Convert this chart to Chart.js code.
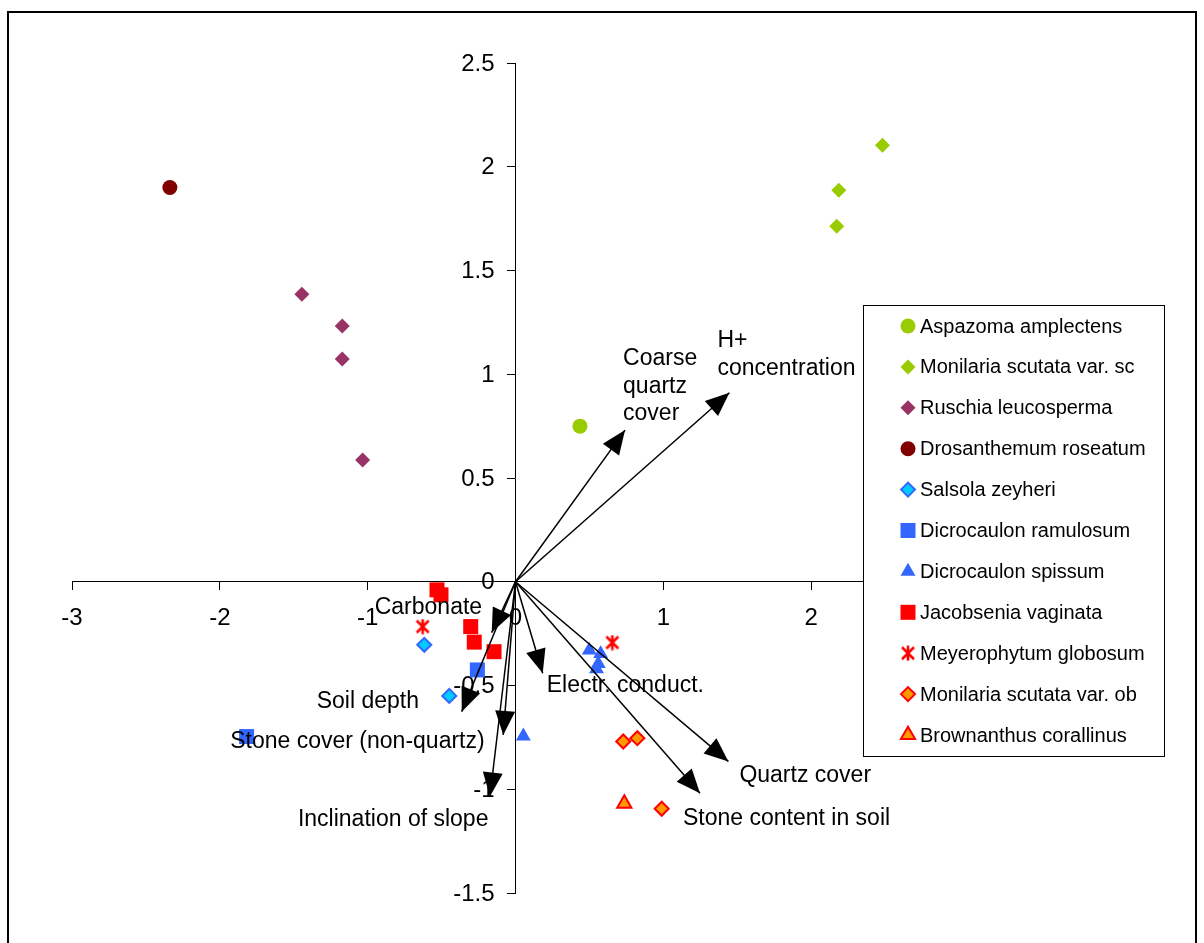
<!DOCTYPE html>
<html><head><meta charset="utf-8">
<script src="https://cdn.jsdelivr.net/npm/chart.js@4/dist/chart.umd.min.js"></script>
<style>html,body{margin:0;padding:0;background:#fff;overflow:hidden}#wrap{position:relative;width:1204px;height:943px}</style>
</head><body><div id="wrap"><canvas id="c" width="1204" height="943"></canvas></div>
<script>
// ---- tick labels ----
const xTickValues = [-3, -2, -1, 0, 1, 2, 3];
const xTickLabels = ['-3', '-2', '-1', '0', '1', '2', '3'];
const yTickValues = [-1.5, -1, -0.5, 0, 0.5, 1, 1.5, 2, 2.5];
const yTickLabels = ['-1.5', '-1', '-0.5', '0', '0.5', '1', '1.5', '2', '2.5'];

// ---- species (ordination scores) ----
const speciesNames = ['Aspazoma amplectens', 'Monilaria scutata var. sc', 'Ruschia leucosperma',
  'Drosanthemum roseatum', 'Salsola zeyheri', 'Dicrocaulon ramulosum', 'Dicrocaulon spissum',
  'Jacobsenia vaginata', 'Meyerophytum globosum', 'Monilaria scutata var. ob', 'Brownanthus corallinus'];
const aspazomaX = [0.436];
const aspazomaY = [0.750];
const moniScX = [2.482, 2.187, 2.173];
const moniScY = [2.104, 1.887, 1.713];
const ruschiaX = [-1.445, -1.172, -1.172, -1.034];
const ruschiaY = [1.385, 1.232, 1.074, 0.587];
const drosX = [-2.338];
const drosY = [1.900];
const salsolaX = [-0.617, -0.448];
const salsolaY = [-0.304, -0.550];
const dicRamX = [-1.819, -0.258];
const dicRamY = [-0.746, -0.425];
const dicSpiX = [0.499, 0.576, 0.560, 0.548, 0.053];
const dicSpiY = [-0.330, -0.347, -0.395, -0.420, -0.744];
const jacobX = [-0.531, -0.504, -0.303, -0.279, -0.145];
const jacobY = [-0.039, -0.063, -0.216, -0.291, -0.337];
const meyerX = [-0.628, 0.655];
const meyerY = [-0.216, -0.293];
const moniObX = [0.729, 0.824, 0.989];
const moniObY = [-0.770, -0.754, -1.094];
const brownX = [0.736];
const brownY = [-1.069];

// ---- environmental vectors ----
const envNames = [['Coarse', 'quartz', 'cover'], ['H+', 'concentration'], ['Carbonate'], ['Soil depth'],
  ['Stone cover (non-quartz)'], ['Inclination of slope'], ['Electr. conduct.'], ['Quartz cover'], ['Stone content in soil']];
const envX = [0.741, 1.447, -0.161, -0.364, -0.083, -0.173, 0.184, 1.440, 1.248];
const envY = [0.731, 0.911, -0.245, -0.626, -0.738, -1.035, -0.441, -0.866, -1.019];
// label placement (pixel offset of first line from the arrow tip)
const envLabelOffset = [[-2, -71], [-12, -52], [-117, -25], [-145, -10], [-273, 7], [-192, 23], [4, 12], [11, 14], [-17, 25]];

function pts(xs, ys) { return xs.map((x, i) => ({ x: x, y: ys[i] })); }

// asterisk marker (Excel style: X with vertical bar)
function makeAsterisk(color) {
  const c = document.createElement('canvas');
  c.width = 16; c.height = 16;
  const g = c.getContext('2d');
  g.strokeStyle = color; g.lineWidth = 2.6; g.lineCap = 'butt';
  g.beginPath();
  g.moveTo(2, 2); g.lineTo(14, 14);
  g.moveTo(14, 2); g.lineTo(2, 14);
  g.moveTo(8, 0.5); g.lineTo(8, 15.5);
  g.stroke();
  return c;
}
const asterisk = makeAsterisk('#FF0000');

const styles = [
  { pointStyle: 'circle', radius: 7.5, bg: '#99CC00', border: '#99CC00', bw: 0 },
  { pointStyle: 'rectRot', radius: 7.5, bg: '#99CC00', border: '#99CC00', bw: 0 },
  { pointStyle: 'rectRot', radius: 7.5, bg: '#993366', border: '#993366', bw: 0 },
  { pointStyle: 'circle', radius: 7.5, bg: '#800000', border: '#800000', bw: 0 },
  { pointStyle: 'rectRot', radius: 7, bg: '#00CCFF', border: '#3366FF', bw: 2 },
  { pointStyle: 'rect', radius: 10.6, bg: '#3366FF', border: '#3366FF', bw: 0 },
  { pointStyle: 'triangle', radius: 8.6, bg: '#3366FF', border: '#3366FF', bw: 0 },
  { pointStyle: 'rect', radius: 10.6, bg: '#FF0000', border: '#FF0000', bw: 0 },
  { pointStyle: asterisk, radius: 8, bg: '#FF0000', border: '#FF0000', bw: 0 },
  { pointStyle: 'rectRot', radius: 7, bg: '#FF9900', border: '#FF0000', bw: 2 },
  { pointStyle: 'triangle', radius: 8.2, bg: '#FF9900', border: '#FF0000', bw: 2 }
];
const speciesData = [
  pts(aspazomaX, aspazomaY), pts(moniScX, moniScY), pts(ruschiaX, ruschiaY), pts(drosX, drosY),
  pts(salsolaX, salsolaY), pts(dicRamX, dicRamY), pts(dicSpiX, dicSpiY), pts(jacobX, jacobY),
  pts(meyerX, meyerY), pts(moniObX, moniObY), pts(brownX, brownY)
];

const datasets = [];
speciesNames.forEach((name, i) => {
  const s = styles[i];
  datasets.push({
    label: name, data: speciesData[i], pointStyle: s.pointStyle, pointRadius: s.radius,
    backgroundColor: s.bg, borderColor: s.border, pointBorderWidth: s.bw, borderWidth: s.bw,
    showLine: false, order: 2, isSpecies: true
  });
});
envNames.forEach((name, i) => {
  datasets.push({
    label: name.join(' '), data: [{ x: 0, y: 0 }, { x: envX[i], y: envY[i] }], showLine: true,
    borderColor: '#000', borderWidth: 1.5, pointRadius: 0, backgroundColor: '#000', order: 1, isArrow: true, envIndex: i
  });
});

const FONT = 'Arial, "Liberation Sans", sans-serif';

const framePlugin = {
  id: 'frame',
  beforeDraw(chart) {
    const ctx = chart.ctx;
    ctx.save();
    ctx.fillStyle = '#fff'; ctx.fillRect(0, 0, chart.width, chart.height);
    ctx.strokeStyle = '#000'; ctx.lineWidth = 2;
    ctx.strokeRect(8, 12, 1188, 960);
    ctx.restore();
  }
};

// y tick labels placed left of the tick marks (axis sits at x = 0)
const yLabelPlugin = {
  id: 'yLabels',
  afterDraw(chart) {},
  beforeDatasetsDraw(chart) {
    const ctx = chart.ctx;
    const xs = chart.scales.x, ys = chart.scales.y;
    const ax = xs.getPixelForValue(0);
    ctx.save();
    ctx.font = '24px ' + FONT;
    ctx.fillStyle = '#000';
    ctx.textAlign = 'right'; ctx.textBaseline = 'middle';
    yTickValues.forEach((v, i) => {
      ctx.fillText(yTickLabels[i], ax - 21, ys.getPixelForValue(v) + 1);
    });
    ctx.restore();
  }
};

const arrowPlugin = {
  id: 'arrows',
  afterDatasetsDraw(chart) {
    const ctx = chart.ctx;
    const xs = chart.scales.x, ys = chart.scales.y;
    ctx.save();
    chart.data.datasets.forEach((ds) => {
      if (!ds.isArrow) return;
      const x0 = xs.getPixelForValue(ds.data[0].x), y0 = ys.getPixelForValue(ds.data[0].y);
      const x1 = xs.getPixelForValue(ds.data[1].x), y1 = ys.getPixelForValue(ds.data[1].y);
      const dx = x1 - x0, dy = y1 - y0, len = Math.hypot(dx, dy);
      const ux = dx / len, uy = dy / len, nx = -uy, ny = ux;
      const L = 24, W = 10;
      ctx.fillStyle = '#000';
      ctx.beginPath();
      ctx.moveTo(x1, y1);
      ctx.lineTo(x1 - L * ux + W * nx, y1 - L * uy + W * ny);
      ctx.lineTo(x1 - L * ux - W * nx, y1 - L * uy - W * ny);
      ctx.closePath();
      ctx.fill();
      const i = ds.envIndex;
      const lines = envNames[i];
      ctx.font = '23px ' + FONT;
      ctx.textAlign = 'left'; ctx.textBaseline = 'middle';
      lines.forEach((t, k) => {
        ctx.fillText(t, x1 + envLabelOffset[i][0], y1 + envLabelOffset[i][1] + k * 27.5);
      });
    });
    ctx.restore();
  }
};

const legendPlugin = {
  id: 'customLegend',
  afterDraw(chart) {
    const ctx = chart.ctx;
    ctx.save();
    const bx = 863.5, by = 305.5, bw = 301, bh = 451;
    ctx.fillStyle = '#fff'; ctx.fillRect(bx, by, bw, bh);
    ctx.strokeStyle = '#000'; ctx.lineWidth = 1; ctx.strokeRect(bx, by, bw, bh);
    ctx.font = '20px ' + FONT;
    ctx.textAlign = 'left'; ctx.textBaseline = 'middle';
    chart.data.datasets.forEach((ds, i) => {
      if (!ds.isSpecies) return;
      const y = 326 + i * 40.9;
      ctx.fillStyle = ds.backgroundColor; ctx.strokeStyle = ds.borderColor; ctx.lineWidth = ds.pointBorderWidth;
      Chart.helpers.drawPoint(ctx, { pointStyle: ds.pointStyle, radius: ds.pointRadius, rotation: 0, borderWidth: ds.pointBorderWidth }, 908, y);
      ctx.fillStyle = '#000';
      ctx.fillText(ds.label, 920, y + 1);
    });
    ctx.restore();
  }
};

new Chart(document.getElementById('c'), {
  type: 'scatter',
  data: { datasets: datasets },
  plugins: [framePlugin, yLabelPlugin, arrowPlugin, legendPlugin],
  options: {
    responsive: false, animation: false, events: [], devicePixelRatio: 1,
    layout: { padding: { left: 72, right: 245, top: 63, bottom: 50 } },
    plugins: { legend: { display: false }, tooltip: { enabled: false } },
    scales: {
      x: {
        type: 'linear', min: -3, max: 3, position: { y: 0 },
        afterBuildTicks: (s) => { s.ticks = xTickValues.map(v => ({ value: v })); },
        ticks: { callback: (v) => xTickLabels[xTickValues.indexOf(v)], color: '#000', font: { family: FONT, size: 24 }, padding: 14, autoSkip: false, maxRotation: 0 },
        grid: { drawOnChartArea: false, drawTicks: true, tickLength: 8, color: '#000' },
        border: { display: true, color: '#000', width: 1 }
      },
      y: {
        type: 'linear', min: -1.5, max: 2.5, position: { x: 0 },
        afterBuildTicks: (s) => { s.ticks = yTickValues.map(v => ({ value: v })); },
        ticks: { display: false, autoSkip: false },
        grid: { drawOnChartArea: false, drawTicks: true, tickLength: 8, color: '#000' },
        border: { display: true, color: '#000', width: 1 }
      }
    }
  }
});
</script></body></html>
